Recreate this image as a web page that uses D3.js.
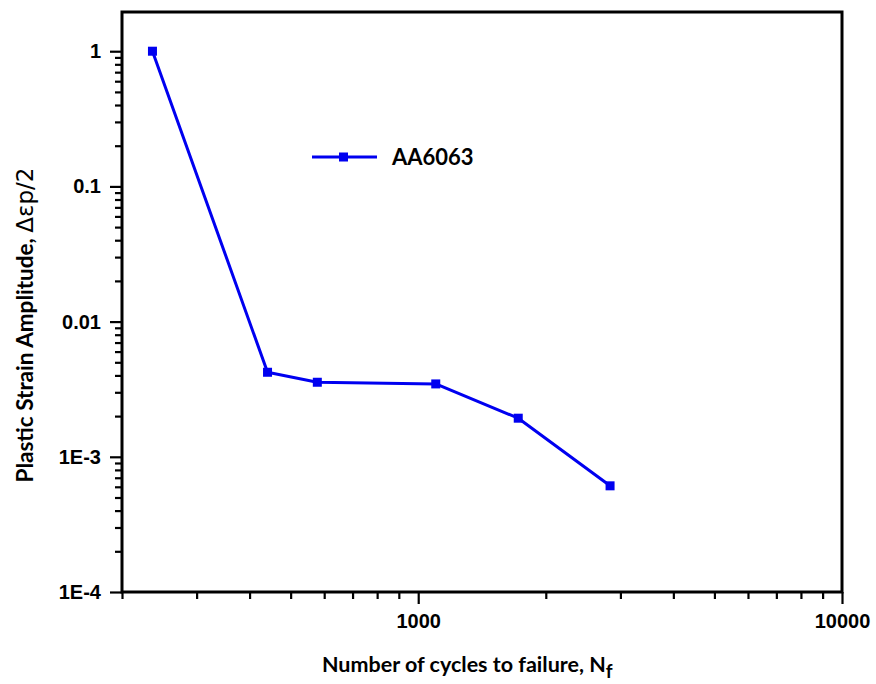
<!DOCTYPE html>
<html>
<head>
<meta charset="utf-8">
<script src="https://cdn.jsdelivr.net/npm/d3@7"></script>
<style>
  html, body { margin: 0; padding: 0; background: #fff; }
  svg { display: block; }
</style>
</head>
<body>
<svg id="chart" width="876" height="684"></svg>
<script>
// Low-cycle fatigue data for AA6063
const seriesName = "AA6063";
const cycles = [236, 441, 578, 1100, 1722, 2836];
const amplitude = [1, 0.00422, 0.00356, 0.00346, 0.00193, 0.00061];

const xMajorTicks = [1000, 10000];
const xTickLabels = ["1000", "10000"];
const yMajorTicks = [1, 0.1, 0.01, 0.001, 0.0001];
const yTickLabels = ["1", "0.1", "0.01", "1E-3", "1E-4"];

const svg = d3.select("#chart");
const plot = { left: 122, right: 842, top: 12, bottom: 592 };
const numFont = "'Liberation Sans', Arial, sans-serif";
const titleFont = "Lato, 'Open Sans', sans-serif";
const blue = "#0000f0";

const x = d3.scaleLog().domain([200, 10000]).range([plot.left, plot.right]);
const y = d3.scaleLog().domain([1e-4, 1.95]).range([plot.bottom, plot.top]);

// Minor tick positions: 2..9 within each decade
function minorTicks(lo, hi) {
  const out = [];
  for (let d = lo; d < hi; d *= 10) {
    for (let k = 2; k <= 9; k++) {
      const v = d * k;
      if (v >= lo && v <= hi) out.push(v);
    }
  }
  return out;
}
const xMinor = minorTicks(100, 10000).filter(v => v >= 200 && v < 10000);
const yMinor = minorTicks(1e-4, 1);

// Axes: minor ticks first, then major ticks with labels
const gx = svg.append("g").attr("transform", `translate(0,${plot.bottom})`);
gx.append("g").call(d3.axisBottom(x).tickValues(xMinor).tickSize(7).tickFormat(""));
gx.append("g").call(
  d3.axisBottom(x).tickValues(xMajorTicks).tickSize(12).tickPadding(10)
    .tickFormat((d, i) => xTickLabels[i])
);

const gy = svg.append("g").attr("transform", `translate(${plot.left},0)`);
gy.append("g").call(d3.axisLeft(y).tickValues(yMinor).tickSize(7).tickFormat(""));
gy.append("g").call(
  d3.axisLeft(y).tickValues(yMajorTicks).tickSize(12).tickPadding(9)
    .tickFormat((d, i) => yTickLabels[i])
);

svg.selectAll(".domain").remove();
svg.selectAll(".tick line").attr("stroke", "#000").attr("stroke-width", 2.2);
svg.selectAll(".tick text")
  .attr("fill", "#000")
  .style("font-family", numFont)
  .style("font-weight", "bold")
  .style("font-size", "20px");

// Plot frame
svg.append("rect")
  .attr("x", plot.left).attr("y", plot.top)
  .attr("width", plot.right - plot.left).attr("height", plot.bottom - plot.top)
  .attr("fill", "none").attr("stroke", "#000").attr("stroke-width", 3);

// Data line and square markers
const data = cycles.map((c, i) => ({ c, a: amplitude[i] }));
const line = d3.line().x(d => x(d.c)).y(d => y(d.a));
svg.append("path")
  .datum(data)
  .attr("d", line)
  .attr("fill", "none")
  .attr("stroke", blue)
  .attr("stroke-width", 3)
  .attr("stroke-linejoin", "round");

const ms = 9;
svg.selectAll("rect.marker")
  .data(data)
  .enter().append("rect")
  .attr("class", "marker")
  .attr("x", d => x(d.c) - ms / 2)
  .attr("y", d => y(d.a) - ms / 2)
  .attr("width", ms).attr("height", ms)
  .attr("fill", blue);

// Legend
const leg = svg.append("g").attr("transform", "translate(312,157)");
leg.append("line").attr("x1", 0).attr("x2", 65).attr("y1", 0).attr("y2", 0)
  .attr("stroke", blue).attr("stroke-width", 3);
leg.append("rect").attr("x", 31.5 - 4.5).attr("y", -4.5).attr("width", 9).attr("height", 9)
  .attr("fill", blue);
leg.append("text")
  .attr("x", 80).attr("y", 8)
  .attr("font-family", titleFont).attr("font-weight", "bold").attr("font-size", 22)
  .attr("fill", "#000")
  .text(seriesName);

// X axis title with subscript
const xt = svg.append("text")
  .attr("x", 322).attr("y", 672)
  .attr("font-family", titleFont).attr("font-weight", "bold").attr("font-size", 21.5)
  .attr("fill", "#000");
xt.append("tspan").text("Number of cycles to failure, N");
xt.append("tspan").attr("dy", 6).attr("font-size", 19).text("f");

// Y axis title
const yt = svg.append("text")
  .attr("transform", "translate(33,325) rotate(-90)")
  .attr("text-anchor", "middle")
  .attr("font-family", titleFont).attr("font-weight", "bold").attr("font-size", 22.5)
  .attr("fill", "#000");
yt.append("tspan").text("Plastic Strain Amplitude, ");
yt.append("tspan").attr("font-weight", "normal")
  .attr("font-family", "'DejaVu Sans', sans-serif").attr("font-size", 23)
  .text("\u0394\u03b5p/2");
</script>
</body>
</html>
